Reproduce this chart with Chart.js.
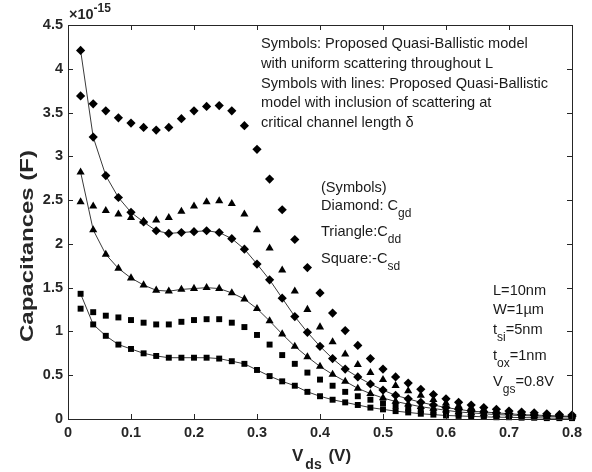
<!DOCTYPE html>
<html>
<head>
<meta charset="utf-8">
<script src="https://cdn.jsdelivr.net/npm/chart.js@4"></script>
<style>
  body { margin: 0; background: #fff; }
  canvas { display: block; }
</style>
</head>
<body>
<canvas id="grafico" width="592" height="472"></canvas>
<script>
// Vds sweep (V)
const vds = [0.02, 0.04, 0.06, 0.08, 0.10, 0.12, 0.14, 0.16, 0.18, 0.20,
             0.22, 0.24, 0.26, 0.28, 0.30, 0.32, 0.34, 0.36, 0.38, 0.40,
             0.42, 0.44, 0.46, 0.48, 0.50, 0.52, 0.54, 0.56, 0.58, 0.60,
             0.62, 0.64, 0.66, 0.68, 0.70, 0.72, 0.74, 0.76, 0.78, 0.80];

// capacitances in units of 1e-15 F
// uniform scattering throughout L (symbols only)
const cgdUniform = [3.69, 3.60, 3.52, 3.44, 3.38, 3.33, 3.30, 3.33, 3.43, 3.52,
                    3.57, 3.58, 3.52, 3.35, 3.08, 2.74, 2.39, 2.05, 1.73, 1.44,
                    1.21, 1.01, 0.84, 0.69, 0.57, 0.48, 0.41, 0.34, 0.28, 0.23,
                    0.19, 0.16, 0.13, 0.11, 0.09, 0.08, 0.07, 0.06, 0.05, 0.045];
const cddUniform = [2.48, 2.43, 2.38, 2.34, 2.30, 2.26, 2.27, 2.30, 2.37, 2.43,
                    2.48, 2.49, 2.46, 2.34, 2.16, 1.95, 1.70, 1.46, 1.25, 1.05,
                    0.88, 0.74, 0.62, 0.53, 0.45, 0.38, 0.32, 0.27, 0.22, 0.18,
                    0.15, 0.13, 0.11, 0.09, 0.08, 0.07, 0.06, 0.05, 0.045, 0.04];
const csdUniform = [1.26, 1.22, 1.18, 1.16, 1.13, 1.10, 1.08, 1.08, 1.11, 1.13,
                    1.14, 1.14, 1.10, 1.05, 0.96, 0.85, 0.73, 0.63, 0.53, 0.45,
                    0.38, 0.31, 0.26, 0.22, 0.18, 0.15, 0.12, 0.10, 0.08, 0.07,
                    0.06, 0.05, 0.04, 0.035, 0.03, 0.025, 0.02, 0.02, 0.02, 0.015];

// scattering at critical channel length delta (symbols with lines)
const cgdDelta = [4.21, 3.22, 2.78, 2.53, 2.36, 2.25, 2.15, 2.12, 2.13, 2.14,
                  2.15, 2.13, 2.06, 1.94, 1.77, 1.59, 1.38, 1.17, 0.99, 0.83,
                  0.69, 0.57, 0.48, 0.40, 0.33, 0.27, 0.23, 0.19, 0.16, 0.13,
                  0.11, 0.09, 0.08, 0.07, 0.06, 0.05, 0.045, 0.04, 0.035, 0.03];
const cddDelta = [2.82, 2.16, 1.88, 1.72, 1.61, 1.53, 1.47, 1.46, 1.48, 1.49,
                  1.50, 1.49, 1.44, 1.37, 1.26, 1.12, 0.97, 0.83, 0.71, 0.60,
                  0.51, 0.43, 0.35, 0.29, 0.24, 0.20, 0.17, 0.14, 0.12, 0.10,
                  0.08, 0.07, 0.06, 0.05, 0.045, 0.04, 0.035, 0.03, 0.03, 0.025];
const csdDelta = [1.43, 1.08, 0.95, 0.85, 0.80, 0.75, 0.72, 0.70, 0.70, 0.70,
                  0.70, 0.69, 0.66, 0.63, 0.56, 0.49, 0.43, 0.38, 0.31, 0.26,
                  0.22, 0.19, 0.16, 0.13, 0.11, 0.09, 0.075, 0.06, 0.05, 0.04,
                  0.035, 0.03, 0.025, 0.02, 0.02, 0.015, 0.015, 0.01, 0.01, 0.01];

const xTicks = [0, 0.1, 0.2, 0.3, 0.4, 0.5, 0.6, 0.7, 0.8];
const yTicks = [0, 0.5, 1, 1.5, 2, 2.5, 3, 3.5, 4, 4.5];

const FONT = '"Liberation Sans", Arial, sans-serif';
const AXIS = '#262626';

function pts(arr) {
    return vds.map((x, i) => ({ x: x, y: arr[i] }));
}

function serie(label, arr, shape, r, withLine) {
    return {
        label: label,
        data: pts(arr),
        showLine: withLine,
        borderColor: '#3a3a3a',
        borderWidth: 1,
        pointStyle: shape,
        pointRadius: r,
        pointBackgroundColor: '#000',
        pointBorderColor: '#000',
        pointBorderWidth: 0,
        clip: 10
    };
}

// text with sub/superscripts: parts = [[text, 'n'|'sub'|'sup'], ...]
function rich(ctx, x, y, parts, size, weight, gap) {
    gap = gap || 0;
    parts.forEach(function (p) {
        const small = p[1] !== 'n';
        const s = small ? Math.round(size * 0.8) : size;
        ctx.font = weight + ' ' + s + 'px ' + FONT;
        let dy = 0;
        if (p[1] === 'sub') dy = size * 0.55;
        if (p[1] === 'sup') dy = -size * 0.45;
        ctx.fillText(p[0], x, y + dy);
        x += ctx.measureText(p[0]).width + gap;
    });
}

const decor = {
    id: 'decor',
    afterDatasetsDraw(chart) {
        const ctx = chart.ctx;
        const a = chart.chartArea;
        const xs = chart.scales.x, ys = chart.scales.y;
        ctx.save();
        // box
        ctx.strokeStyle = AXIS;
        ctx.lineWidth = 1;
        ctx.strokeRect(Math.round(a.left) + 0.5, Math.round(a.top) + 0.5,
                       Math.round(a.right - a.left), Math.round(a.bottom - a.top));
        // inward ticks on all sides
        ctx.beginPath();
        xTicks.forEach(function (v) {
            const px = Math.round(xs.getPixelForValue(v)) + 0.5;
            ctx.moveTo(px, a.bottom); ctx.lineTo(px, a.bottom - 5);
            ctx.moveTo(px, a.top); ctx.lineTo(px, a.top + 5);
        });
        yTicks.forEach(function (v) {
            const py = Math.round(ys.getPixelForValue(v)) + 0.5;
            ctx.moveTo(a.left, py); ctx.lineTo(a.left + 5, py);
            ctx.moveTo(a.right, py); ctx.lineTo(a.right - 5, py);
        });
        ctx.stroke();

        // axis titles
        ctx.fillStyle = AXIS;
        ctx.textBaseline = 'middle';
        ctx.textAlign = 'left';
        rich(ctx, 292, 456, [['V', 'n'], ['ds', 'sub'], [' (V)', 'n']], 17, 'bold', 2);

        ctx.save();
        ctx.translate(28, 246);
        ctx.rotate(-Math.PI / 2);
        ctx.textAlign = 'center';
        ctx.font = 'bold 19px ' + FONT;
        const yTitle = 'Capacitances (F)';
        const k = 192 / ctx.measureText(yTitle).width;
        ctx.scale(k, 1);
        ctx.fillText(yTitle, 0, 0);
        ctx.restore();

        ctx.textAlign = 'left';
        rich(ctx, 69, 15, [['\u00d710', 'n'], ['-15', 'sup']], 14.5, 'bold');

        // annotations
        ctx.fillStyle = '#1a1a1a';
        const notes = ['Symbols: Proposed Quasi-Ballistic model',
                       'with uniform scattering throughout L',
                       'Symbols with lines: Proposed Quasi-Ballistic',
                       'model with inclusion of scattering at',
                       'critical channel length \u03b4'];
        ctx.font = '14.6px ' + FONT;
        notes.forEach(function (t, i) {
            ctx.fillText(t, 261, 44 + i * 19.8);
        });
        const fs = 14.6;
        rich(ctx, 321, 188, [['(Symbols)', 'n']], fs, 'normal');
        rich(ctx, 321, 206, [['Diamond: C', 'n'], ['gd', 'sub']], fs, 'normal');
        rich(ctx, 321, 232, [['Triangle:C', 'n'], ['dd', 'sub']], fs, 'normal');
        rich(ctx, 321, 259, [['Square:-C', 'n'], ['sd', 'sub']], fs, 'normal');

        rich(ctx, 493, 291, [['L=10nm', 'n']], fs, 'normal');
        rich(ctx, 493, 310, [['W=1\u00b5m', 'n']], fs, 'normal');
        rich(ctx, 493, 330, [['t', 'n'], ['si', 'sub'], ['=5nm', 'n']], fs, 'normal');
        rich(ctx, 493, 356, [['t', 'n'], ['ox', 'sub'], ['=1nm', 'n']], fs, 'normal');
        rich(ctx, 493, 382, [['V', 'n'], ['gs', 'sub'], ['=0.8V', 'n']], fs, 'normal');
        ctx.restore();
    }
};

const ctx = document.getElementById('grafico').getContext('2d');
const grafico = new Chart(ctx, {
    type: 'scatter',
    data: {
        datasets: [
            serie('Cgd uniform', cgdUniform, 'rectRot', 4.6, false),
            serie('Cdd uniform', cddUniform, 'triangle', 4.7, false),
            serie('-Csd uniform', csdUniform, 'rect', 4.2, false),
            serie('Cgd delta', cgdDelta, 'rectRot', 4.6, true),
            serie('Cdd delta', cddDelta, 'triangle', 4.7, true),
            serie('-Csd delta', csdDelta, 'rect', 4.2, true)
        ]
    },
    options: {
        responsive: false,
        animation: false,
        layout: { padding: { left: 0, top: 25, right: 20, bottom: 0 } },
        plugins: {
            legend: { display: false },
            tooltip: { enabled: false }
        },
        scales: {
            x: {
                type: 'linear',
                min: 0, max: 0.8,
                afterBuildTicks: function (s) { s.ticks = xTicks.map(v => ({ value: v })); },
                afterFit: function (s) { s.height = 53; },
                grid: { display: false, drawTicks: false },
                border: { display: false },
                ticks: {
                    padding: 5,
                    color: AXIS,
                    font: { family: FONT, size: 14.5, weight: 'bold' },
                    maxRotation: 0,
                    callback: v => String(Number(v.toFixed(1)))
                }
            },
            y: {
                min: 0, max: 4.5,
                afterBuildTicks: function (s) { s.ticks = yTicks.map(v => ({ value: v })); },
                afterFit: function (s) { s.width = 68; },
                grid: { display: false, drawTicks: false },
                border: { display: false },
                ticks: {
                    padding: 5,
                    color: AXIS,
                    font: { family: FONT, size: 14.5, weight: 'bold' },
                    callback: v => String(Number(v.toFixed(1)))
                }
            }
        }
    },
    plugins: [decor]
});
</script>
</body>
</html>
